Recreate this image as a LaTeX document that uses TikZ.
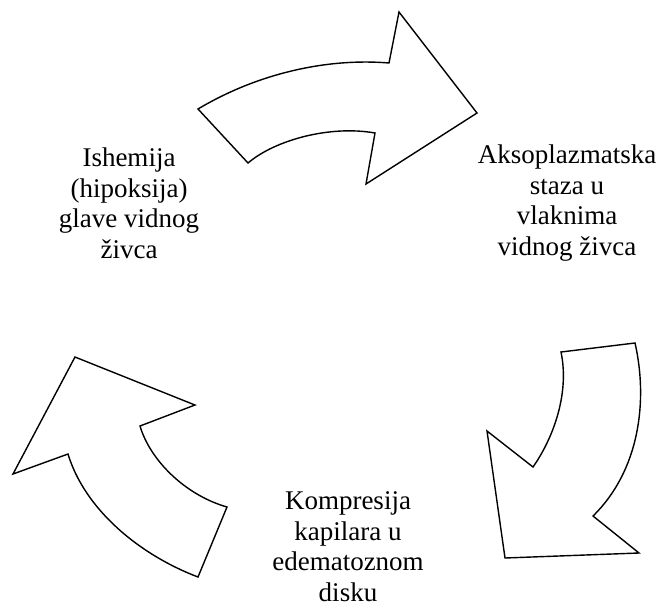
\documentclass[tikz,border=0pt]{standalone}
\usepackage{fontspec}
\setmainfont{Liberation Serif}
\usetikzlibrary{positioning}

\tikzset{
  blockarrow/.style={draw=black, line width=1.4pt, line join=miter, fill=white},
  label/.style={align=center, anchor=base, inner sep=0pt,
    font=\fontsize{27}{30.5}\selectfont}
}

\begin{document}
\begin{tikzpicture}[x=1pt, y=-1pt]
  \useasboundingbox (0,0) rectangle (666,608);
  % arrows
  \draw [blockarrow] (198,109) .. controls (260,72) and (330,58) .. (389,63)
    -- (399,12) -- (477,113) -- (366,184) -- (375,133)
    .. controls (330,125) and (275,140) .. (248,163) -- cycle;
  \draw [blockarrow] (561,352) -- (635,343)
    .. controls (648,400) and (640,470) .. (593,516)
    -- (639,553) -- (505,558) -- (487,431) -- (533,467)
    .. controls (552,440) and (570,395) .. cycle;
  \draw [blockarrow] (75,357) -- (195,405) -- (140,426)
    .. controls (150,460) and (185,495) .. (227,507)
    -- (198,577) .. controls (140,555) and (85,510) .. (68,454)
    -- (13,474) -- cycle;
  % texts (base = last line)
  \node [label] (ishemija) at (129,258) {Ishemija\\(hipoksija)\\glave vidnog\\živca};
  \node [label] (staza) at (567,255) {Aksoplazmatska\\staza u\\vlaknima\\vidnog živca};
  \node [label] (kompresija) at (348,601) {Kompresija\\kapilara u\\edematoznom\\disku};
\end{tikzpicture}
\end{document}
